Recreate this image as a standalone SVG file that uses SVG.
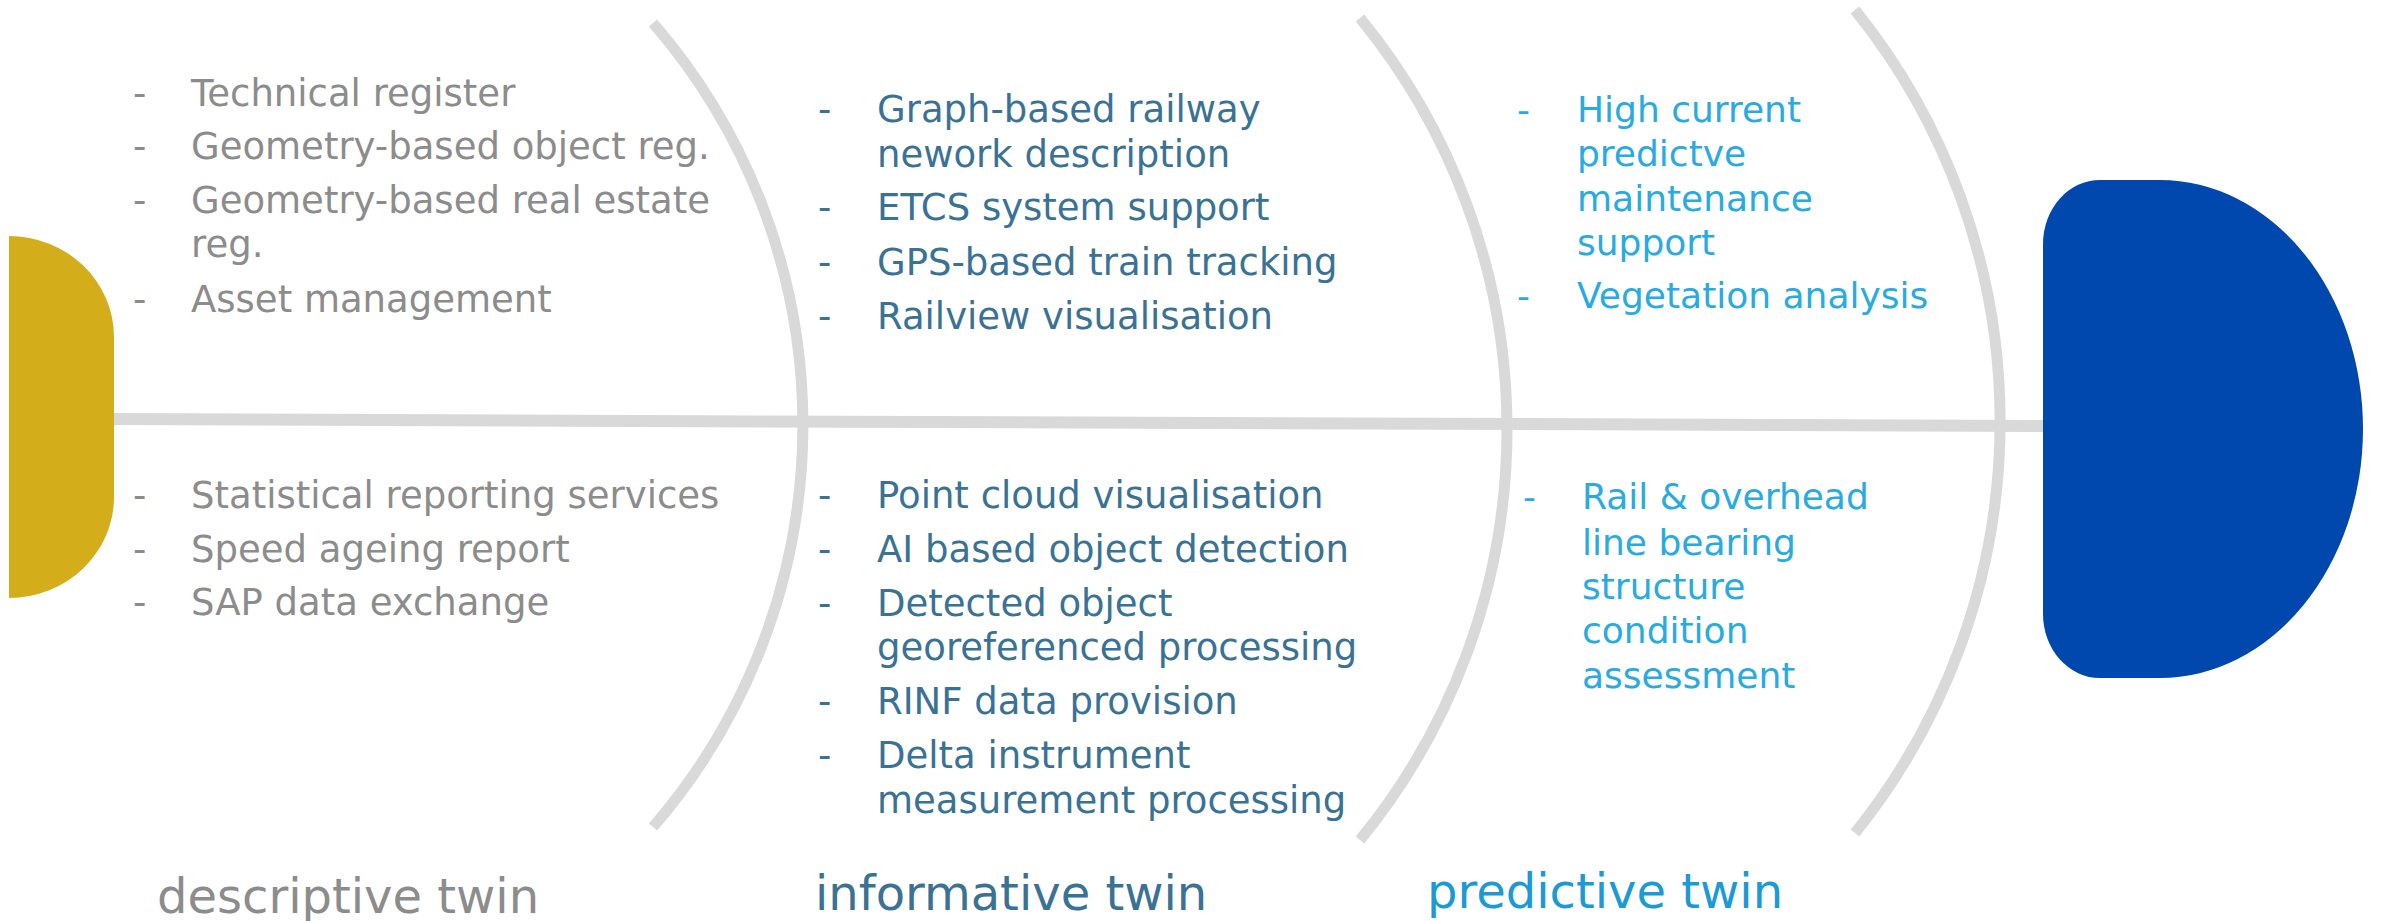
<svg xmlns="http://www.w3.org/2000/svg" width="2386" height="921" viewBox="0 0 2386 921">
<style>
  .spine { fill: none; stroke: #d9d9d9; stroke-width: 11; stroke-linecap: butt; }
  .axis { fill: none; stroke: #d9d9d9; stroke-width: 12; }
  text { font-family: "DejaVu Sans", "Open Sans", sans-serif; }
  .desc { fill: #8c8c8c; font-size: 37px; }
  .info { fill: #3a7296; font-size: 37px; }
  .pred { fill: #29abe2; font-size: 36px; }
  .lbl { font-size: 48px; }
  .lbl-desc { fill: #8c8c8c; }
  .lbl-info { fill: #3a7296; }
  .lbl-pred { fill: #1b9ad6; }
</style>
<rect width="2386" height="921" fill="#ffffff"/>
<g id="connectors">
  <line class="axis" x1="100" y1="419" x2="2050" y2="426"/>
  <path class="spine" d="M653,23 A614,614 0 0 1 653,827"/>
  <path class="spine" d="M1360,18 A648,648 0 0 1 1360,840"/>
  <path class="spine" d="M1855,10 A656,656 0 0 1 1855,833"/>
</g>
<g id="start-node">
  <path d="M9,236 A105,101 0 0 1 114,337 L114,497 A105,101 0 0 1 9,598 Z" fill="#d4ae1a"/>
</g>
<g id="end-node">
  <path d="M2100,180 L2160,180 A203,249 0 0 1 2160,678 L2100,678 A57,64 0 0 1 2043,614 L2043,244 A57,64 0 0 1 2100,180 Z" fill="#0048ae"/>
</g>
<g id="descriptive-top" class="desc">
  <text x="133" y="106">-</text><text x="191" y="106">Technical register</text>
  <text x="133" y="159">-</text><text x="191" y="159">Geometry-based object reg.</text>
  <text x="133" y="213">-</text><text x="191" y="213">Geometry-based real estate</text>
  <text x="191" y="257">reg.</text>
  <text x="133" y="312">-</text><text x="191" y="312">Asset management</text>
</g>
<g id="descriptive-bottom" class="desc">
  <text x="133" y="508">-</text><text x="191" y="508">Statistical reporting services</text>
  <text x="133" y="562">-</text><text x="191" y="562">Speed ageing report</text>
  <text x="133" y="615">-</text><text x="191" y="615">SAP data exchange</text>
</g>
<g id="informative-top" class="info">
  <text x="818" y="122">-</text><text x="877" y="122">Graph-based railway</text>
  <text x="877" y="167">nework description</text>
  <text x="818" y="220">-</text><text x="877" y="220">ETCS system support</text>
  <text x="818" y="275">-</text><text x="877" y="275">GPS-based train tracking</text>
  <text x="818" y="329">-</text><text x="877" y="329">Railview visualisation</text>
</g>
<g id="informative-bottom" class="info">
  <text x="818" y="508">-</text><text x="877" y="508">Point cloud visualisation</text>
  <text x="818" y="562">-</text><text x="877" y="562">AI based object detection</text>
  <text x="818" y="616">-</text><text x="877" y="616">Detected object</text>
  <text x="877" y="660">georeferenced processing</text>
  <text x="818" y="714">-</text><text x="877" y="714">RINF data provision</text>
  <text x="818" y="768">-</text><text x="877" y="768">Delta instrument</text>
  <text x="877" y="813">measurement processing</text>
</g>
<g id="predictive-top" class="pred">
  <text x="1517" y="122">-</text><text x="1577" y="122">High current</text>
  <text x="1577" y="166">predictve</text>
  <text x="1577" y="211">maintenance</text>
  <text x="1577" y="255">support</text>
  <text x="1517" y="308">-</text><text x="1577" y="308">Vegetation analysis</text>
</g>
<g id="predictive-bottom" class="pred">
  <text x="1523" y="509">-</text><text x="1582" y="509">Rail &amp; overhead</text>
  <text x="1582" y="555">line bearing</text>
  <text x="1582" y="599">structure</text>
  <text x="1582" y="643">condition</text>
  <text x="1582" y="688">assessment</text>
</g>
<g id="labels" class="lbl">
  <text class="lbl lbl-desc" x="157" y="913">descriptive twin</text>
  <text class="lbl lbl-info" x="815" y="910">informative twin</text>
  <text class="lbl lbl-pred" x="1427" y="908">predictive twin</text>
</g>
</svg>
